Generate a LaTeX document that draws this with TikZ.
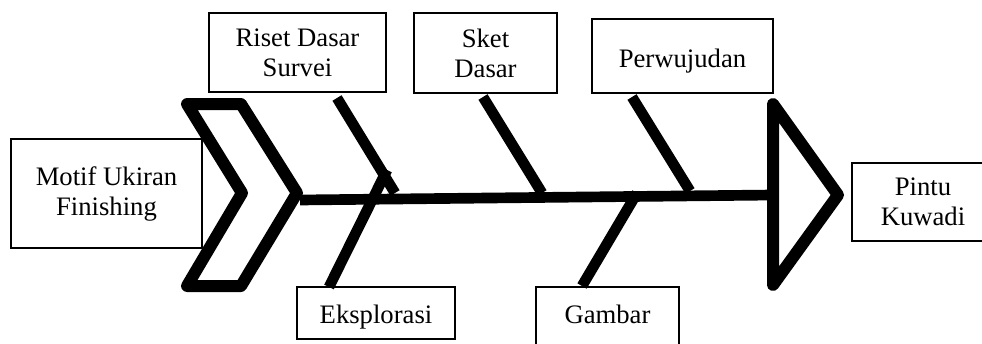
\documentclass[tikz,border=0pt]{standalone}
\usepackage{fontspec}
\setmainfont{Liberation Serif}
\usepackage{tikz}

\tikzset{
  kotak/.style={draw, line width=1.3pt, align=center, inner sep=0pt,
    font=\fontsize{20}{22.5}\selectfont},
  tulang/.style={line width=8pt},
  kepala/.style={line width=9pt, line join=round},
}

\begin{document}
\begin{tikzpicture}[x=0.75pt,y=-0.75pt]
\useasboundingbox (0,0) rectangle (982,343);
\clip (0,0) rectangle (982,343);
% kotak
\node [kotak, minimum width=143.25pt, minimum height=81.75pt] (motif) at (106.5,193.5) {Motif Ukiran\\Finishing};
\node [kotak, minimum width=132.75pt, minimum height=59.25pt] (riset) at (297.5,52.5) {Riset Dasar\\Survei};
\node [kotak, minimum width=107.25pt, minimum height=60pt] (sket) at (485.5,53) {Sket\\Dasar};
\node [kotak, minimum width=135.75pt, minimum height=55.5pt, text height=20.8pt, text depth=4.3pt] (wujud) at (682.5,56) {Perwujudan};
\node [kotak, minimum width=118.5pt, minimum height=39pt, text height=19.3pt, text depth=4.3pt] (eksplor) at (376,313) {Eksplorasi};
\node [kotak, minimum width=107.25pt, minimum height=45pt, text height=13.7pt, text depth=4.3pt] (gambar) at (607.5,317) {Gambar};
\node [kotak, minimum width=106.5pt, minimum height=58.5pt] (pintu) at (923,202) {Pintu\\Kuwadi};
% ujung tulang
\coordinate (r1) at (337,98);   \coordinate (r2) at (395,193);
\coordinate (e1) at (329,287);  \coordinate (e2) at (387,170);
\coordinate (s1) at (483,97);   \coordinate (s2) at (542,193);
\coordinate (w1) at (632,97);   \coordinate (w2) at (690,191);
\coordinate (g1) at (582,286);  \coordinate (g2) at (637,193);
\coordinate (ekor) at (300,200);
\coordinate (mulut) at (773,195);
% tulang utama
\draw [tulang] (ekor) -- (mulut);
% ekor
\draw [kepala] (187,104) -- (241,104) -- (297,193) -- (241,286) -- (187,286) -- (242,193) -- cycle;
% kepala
\draw [kepala] (773,104) -- (838,195) -- (773,285) -- cycle;
% tulang
\draw [tulang] (r1) -- (r2);
\draw [tulang] (e1) -- (e2);
\draw [tulang] (s1) -- (s2);
\draw [tulang] (w1) -- (w2);
\draw [tulang] (g1) -- (g2);
\end{tikzpicture}
\end{document}
